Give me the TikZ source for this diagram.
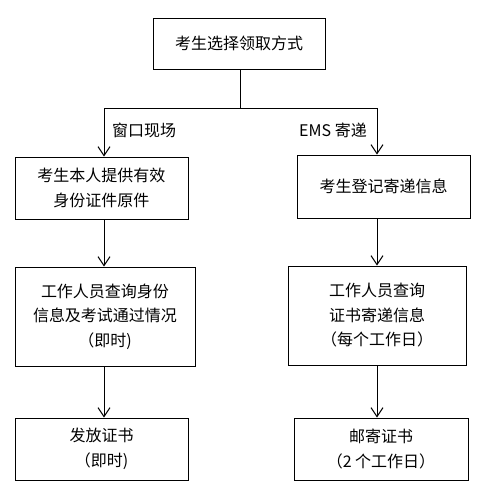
\documentclass[tikz,border=0pt]{standalone}
\usepackage{fontspec}
\setmainfont{Noto Sans CJK SC}
\usetikzlibrary{arrows.meta}
\begin{document}
\begin{tikzpicture}[x=1pt,y=-1pt,
  box/.style={draw,line width=1pt,rectangle,align=center,inner sep=0pt,
    font=\fontsize{16}{24.5}\selectfont},
  lbl/.style={font=\fontsize{16}{24.5}\selectfont,inner sep=0pt},
  link/.style={line width=1pt},
  arr/.style={line width=1pt,-{Straight Barb[length=9pt,width=12pt,line width=1pt]}}]
\useasboundingbox (0,0) rectangle (493,491);
\node[box,minimum width=172pt,minimum height=51pt] (top) at (239,43.5) {考生选择领取方式};
\node[box,minimum width=173pt,minimum height=62pt] (L1) at (101.5,188) {考生本人提供有效\\身份证件原件};
\node[box,minimum width=173pt,minimum height=63pt] (R1) at (383.5,186.5) {考生登记寄递信息};
\node[box,minimum width=180pt,minimum height=99pt] (L2) at (105,316.5) {工作人员查询身份\\信息及考试通过情况\\（即时)};
\node[box,minimum width=178pt,minimum height=99pt] (R2) at (377,315.5) {工作人员查询\\证书寄递信息\\（每个工作日）};
\node[box,minimum width=173pt,minimum height=62pt] (L3) at (101.5,449) {发放证书\\（即时)};
\node[box,minimum width=174pt,minimum height=62pt] (R3) at (381,449) {邮寄证书\\（2 个工作日）};
\coordinate (j) at (240,108);
\coordinate (jl) at (104,108);
\coordinate (jr) at (377,108);
\draw[link] (top.south -| j) -- (j);
\draw[link] (jl) -- (jr);
\draw[arr] (jl) -- (L1.north -| jl);
\draw[arr] (jr) -- (R1.north -| jr);
\draw[arr] (L1.south -| jl) -- (L2.north -| jl);
\draw[arr] (R1.south -| jr) -- (R2.north -| jr);
\draw[arr] (L2.south -| jl) -- (L3.north -| jl);
\draw[arr] (R2.south -| jr) -- (R3.north -| jr);
\node[lbl] (la) at (144,130) {窗口现场};
\node[lbl] (lb) at (333,130) {EMS 寄递};
\end{tikzpicture}
\end{document}
